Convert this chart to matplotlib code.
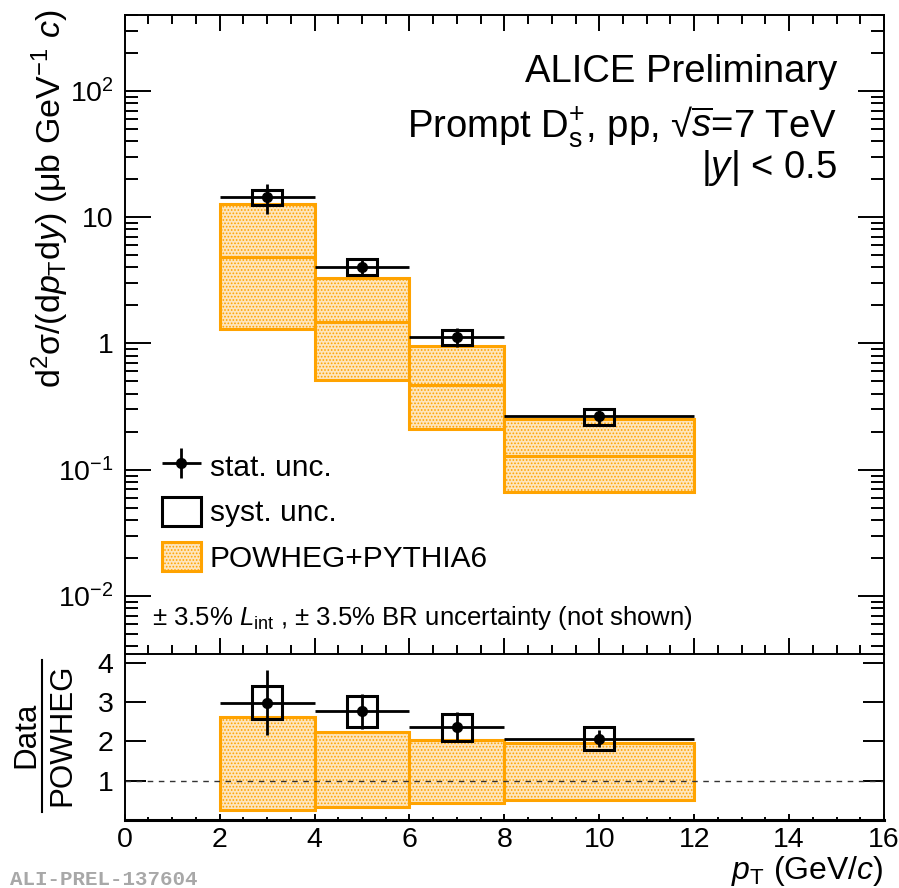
import matplotlib
matplotlib.use("Agg")
import matplotlib.pyplot as plt
import numpy as np
from matplotlib.ticker import LogLocator, NullFormatter, MultipleLocator
from matplotlib.patches import Rectangle
from matplotlib.lines import Line2D
from matplotlib.legend_handler import HandlerErrorbar
from matplotlib.container import ErrorbarContainer

# ---- fonts ----
plt.rcParams['font.family'] = 'Liberation Sans'
plt.rcParams['mathtext.fontset'] = 'custom'
plt.rcParams['mathtext.rm'] = 'Liberation Sans'
plt.rcParams['mathtext.it'] = 'Liberation Sans:italic'
plt.rcParams['mathtext.bf'] = 'Liberation Sans:bold'
plt.rcParams['mathtext.sf'] = 'Liberation Sans'
plt.rcParams['hatch.linewidth'] = 0.8

# ---- data ----
# pT bins (GeV/c)
pt_lo = np.array([2.0, 4.0, 6.0, 8.0])
pt_hi = np.array([4.0, 6.0, 8.0, 12.0])
pt_c = np.array([3.0, 5.0, 7.0, 10.0])

# measured cross section (mub GeV^-1 c)
xsec = np.array([14.5, 4.05, 1.13, 0.266])
xsec_stat = np.array([3.8, 0.62, 0.19, 0.035])
xsec_syst = np.array([2.05, 0.59, 0.16, 0.038])

# POWHEG+PYTHIA6 prediction
pow_c = np.array([4.8, 1.48, 0.473, 0.129])
pow_hi = np.array([12.7, 3.29, 0.953, 0.25])
pow_lo = np.array([1.31, 0.513, 0.209, 0.067])

# Data / POWHEG
ratio = np.array([2.98, 2.76, 2.36, 2.07])
ratio_stat = np.array([0.83, 0.45, 0.38, 0.22])
ratio_syst = np.array([0.42, 0.40, 0.34, 0.30])
ratio_pow_hi = np.array([2.62, 2.24, 2.03, 1.96])
ratio_pow_lo = np.array([0.245, 0.33, 0.43, 0.50])

# half width of syst. boxes in pT
box_hw = 0.32

ytick_vals = [1e-2, 1e-1, 1, 10, 1e2]
ytick_labels = [r'$10^{-2}$', r'$10^{-1}$', '1', '10', r'$10^{2}$']

orange = '#ffa300'
fillc = '#fde5bd'
tick_fs = 20.5

W, H = 899, 888


def fx(x):
    return x / W


def fy(y):
    return 1 - y / H


fig = plt.figure(figsize=(W / 100, H / 100), dpi=100)
ax1 = fig.add_axes([fx(124.7), fy(654), fx(884) - fx(124.7), fy(15) - fy(654)])
ax2 = fig.add_axes([fx(124.7), fy(820), fx(884) - fx(124.7), fy(654) - fy(820)])

# ---- top panel: cross section ----
ax1.set_yscale('log')
ax1.bar(pt_c, pow_hi - pow_lo, width=pt_hi - pt_lo, bottom=pow_lo,
        facecolor=fillc, edgecolor=orange, hatch='.....', lw=2.2, zorder=1)
ax1.hlines(pow_c, pt_lo, pt_hi, colors=orange, lw=2.2, zorder=2)
ax1.bar(pt_c, 2 * xsec_syst, width=2 * box_hw, bottom=xsec - xsec_syst,
        fill=False, edgecolor='k', lw=2.2, zorder=3)
h_stat = ax1.errorbar(pt_c, xsec, xerr=[pt_c - pt_lo, pt_hi - pt_c], yerr=xsec_stat,
                      fmt='o', color='k', ms=7, elinewidth=2, capsize=0, zorder=4)

ax1.set_xlim(0, 16)
ax1.set_ylim(3.47e-3, 400)
ax1.set_yticks(ytick_vals, ytick_labels)
ax1.yaxis.set_minor_locator(LogLocator(base=10, subs=np.arange(2, 10)))
ax1.yaxis.set_minor_formatter(NullFormatter())
ax1.xaxis.set_major_locator(MultipleLocator(2))
ax1.xaxis.set_minor_locator(MultipleLocator(0.5))
ax1.tick_params(axis='both', which='both', direction='in',
                top=True, right=True, labelbottom=False, width=1.4)
ax1.tick_params(axis='y', which='major', length=19, labelsize=tick_fs, pad=8)
ax1.tick_params(axis='y', which='minor', length=9.5)
ax1.tick_params(axis='x', which='major', length=11.5)
ax1.tick_params(axis='x', which='minor', length=6.5)

# legend
h_syst = Rectangle((0, 0), 1, 1, fill=False, edgecolor='k', lw=2.2)
h_pow = Rectangle((0, 0), 1, 1, facecolor=fillc, edgecolor=orange,
                  hatch='.....', lw=2.2)
ax1.legend([h_stat, h_syst, h_pow], ['stat. unc.', 'syst. unc.', 'POWHEG+PYTHIA6'],
           handler_map={ErrorbarContainer: HandlerErrorbar(xerr_size=0.65, yerr_size=0.5)},
           loc='upper left', bbox_to_anchor=(fx(162), fy(451)),
           bbox_transform=fig.transFigure, frameon=False, fontsize=21.5,
           borderpad=0, borderaxespad=0, handlelength=1.3, handleheight=1.12,
           handletextpad=0.3, labelspacing=0.5)

fig.text(fx(152), fy(625), r'$\pm$ 3.5% $L_{\rm int}$ , $\pm$ 3.5% BR uncertainty (not shown)',
         fontsize=18.5, ha='left', va='baseline')

fig.text(fx(837), fy(82), 'ALICE Preliminary', fontsize=27.5, ha='right', va='baseline')
fig.text(fx(837), fy(137), r'Prompt D$_{\rm s}^{+}$, pp, √$\overline{s}$=7 TeV',
         fontsize=27.5, ha='right', va='baseline')
fig.text(fx(837), fy(178), r'|$y$| < 0.5', fontsize=27.5, ha='right', va='baseline')

fig.text(fx(50), fy(10), r'd$^{2}$σ/(d$p_{\rm T}$d$y$) (μb GeV$^{-1}$ $c$)',
         fontsize=24.5, rotation=90, ha='center', va='top')

# ---- bottom panel: ratio ----
ax2.bar(pt_c, ratio_pow_hi - ratio_pow_lo, width=pt_hi - pt_lo, bottom=ratio_pow_lo,
        facecolor=fillc, edgecolor=orange, hatch='.....', lw=2.2, zorder=1)
ax2.axhline(1, ls=(0, (4, 4)), color='#333333', lw=1, zorder=2)
ax2.bar(pt_c, 2 * ratio_syst, width=2 * box_hw, bottom=ratio - ratio_syst,
        fill=False, edgecolor='k', lw=2.2, zorder=3)
ax2.errorbar(pt_c, ratio, xerr=[pt_c - pt_lo, pt_hi - pt_c], yerr=ratio_stat,
             fmt='o', color='k', ms=7, elinewidth=2, capsize=0, zorder=4)

ax2.set_xlim(0, 16)
ax2.set_ylim(0, 4.22)
ax2.set_yticks([1, 2, 3, 4])
ax2.xaxis.set_major_locator(MultipleLocator(2))
ax2.xaxis.set_minor_locator(MultipleLocator(0.5))
ax2.tick_params(axis='both', which='both', direction='in', right=True, width=1.4,
                labelsize=tick_fs)
ax2.tick_params(axis='y', which='major', length=15, pad=8)
ax2.tick_params(axis='x', which='major', length=4.5, pad=5)
ax2.tick_params(axis='x', which='minor', length=2.5)
ax2.spines['bottom'].set_linewidth(2.2)

for ax in (ax1, ax2):
    for s in ('left', 'right', 'top'):
        ax.spines[s].set_linewidth(1.4)

fig.text(fx(883), fy(888), r'$p_{\rm T}$ (GeV/$c$)', fontsize=23, ha='right', va='bottom')

# Data / POWHEG fraction label
fig.text(fx(26), fy(735), 'Data', fontsize=22.5, rotation=90, ha='center', va='center')
fig.text(fx(62), fy(735), 'POWHEG', fontsize=22.5, rotation=90, ha='center', va='center')
fig.add_artist(Line2D([fx(42), fx(42)], [fy(660), fy(812)], color='k', lw=1.5,
                      transform=fig.transFigure))

fig.text(fx(10), fy(885), 'ALI-PREL-137604', fontsize=15, family='Liberation Mono',
         weight='bold', color='#a8a8a8', ha='left', va='baseline')

fig.savefig('out.png', dpi=100)
